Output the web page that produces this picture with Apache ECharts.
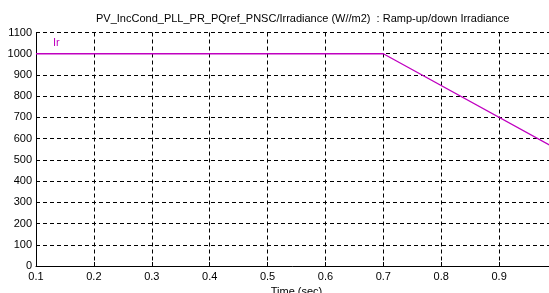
<!DOCTYPE html>
<html>
<head>
<meta charset="utf-8">
<script src="https://cdn.jsdelivr.net/npm/echarts@6/dist/echarts.min.js"></script>
<style>html,body{margin:0;padding:0;background:#fff;overflow:hidden;}#c{width:549px;height:293px;}</style>
</head>
<body>
<div id="c"></div>
<script>
var titleText = 'PV_IncCond_PLL_PR_PQref_PNSC/Irradiance (W//m2)  : Ramp-up/down Irradiance';
var seriesName = 'Ir';
var timeValues = [0.1, 0.7, 1.0];
var irradianceValues = [1000, 1000, 550];
var xTicks = [0.1, 0.2, 0.3, 0.4, 0.5, 0.6, 0.7, 0.8, 0.9, 1.0];
var yTicks = [0, 100, 200, 300, 400, 500, 600, 700, 800, 900, 1000, 1100];

var chart = echarts.init(document.getElementById('c'), null, {renderer: 'canvas'});
var font = 'Liberation Sans, Arial, Helvetica, sans-serif';
var lineColor = '#c000c0';
var data = timeValues.map(function (t, i) { return [t, irradianceValues[i]]; });
var gridLine = {show: true, lineStyle: {color: '#000', type: [4, 3], width: 1}};

chart.setOption({
  backgroundColor: '#fff',
  animation: false,
  grid: {left: 36, width: 521, top: 32.5, bottom: 27, containLabel: false, outerBoundsMode: 'none'},
  xAxis: {
    type: 'value',
    min: xTicks[0], max: xTicks[xTicks.length - 1], interval: 0.1,
    name: 'Time (sec)', nameLocation: 'middle', nameGap: 17,
    nameTextStyle: {fontFamily: font, fontSize: 11, color: '#000'},
    axisLine: {show: true, onZero: false, lineStyle: {color: '#000', width: 1}},
    axisTick: {show: true, inside: true, length: 4, lineStyle: {color: '#000'}},
    axisLabel: {fontFamily: font, fontSize: 11, color: '#000', margin: 5,
      formatter: function (v) { return (Math.round(v * 10) / 10).toFixed(1); }},
    splitLine: gridLine
  },
  yAxis: {
    type: 'value',
    min: yTicks[0], max: yTicks[yTicks.length - 1], interval: 100,
    axisLine: {show: true, lineStyle: {color: '#000', width: 1}},
    axisTick: {show: true, inside: true, length: 4, lineStyle: {color: '#000'}},
    axisLabel: {fontFamily: font, fontSize: 11, color: '#000', margin: 4,
      formatter: function (v) { return String(v); }},
    splitLine: gridLine
  },
  graphic: [
    {type: 'text', left: 296 - 200, top: 13, style: {text: titleText, font: '11px ' + font, fill: '#000', width: 400, align: 'center'}, z: 10},
    {type: 'text', left: 53, top: 37, style: {text: seriesName, font: '11px ' + font, fill: lineColor}, z: 10}
  ],
  series: [{
    name: seriesName,
    type: 'line',
    data: data,
    showSymbol: false,
    lineStyle: {color: lineColor, width: 1.3},
    clip: true
  }]
});
</script>
</body>
</html>
